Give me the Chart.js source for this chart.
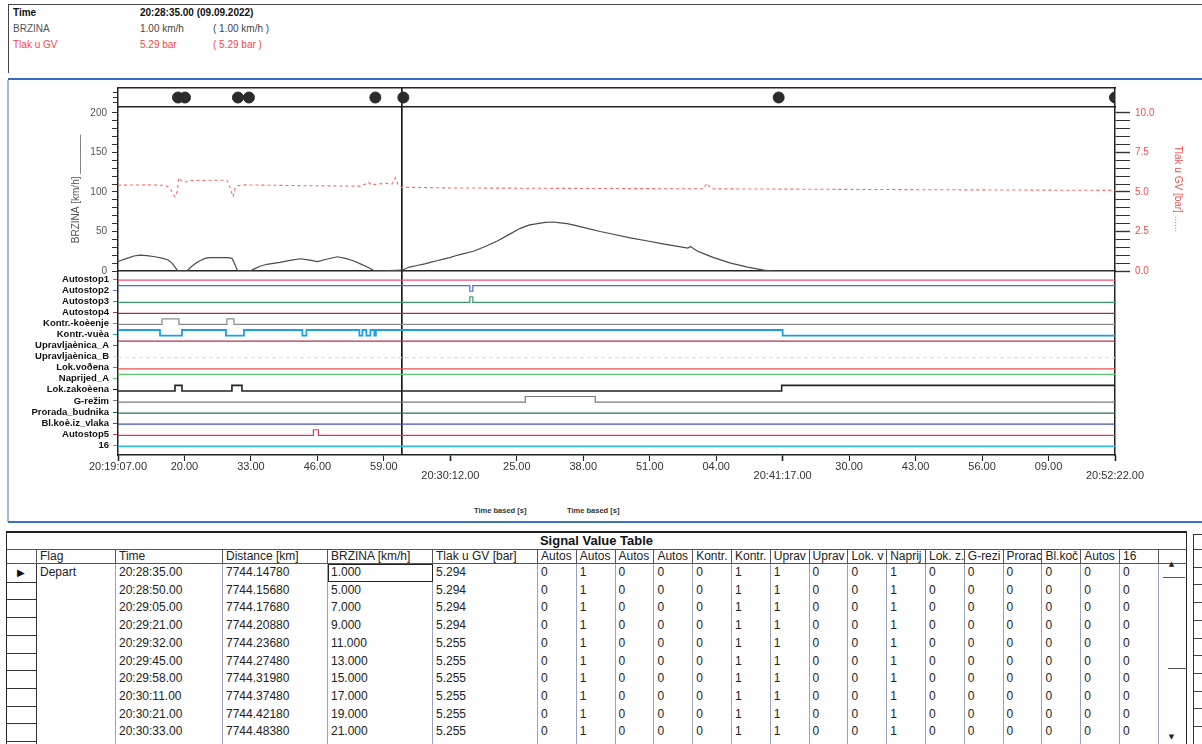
<!DOCTYPE html>
<html><head><meta charset="utf-8">
<script src="https://cdn.jsdelivr.net/npm/chart.js@4.4.0/dist/chart.umd.min.js"></script>
<style>
html,body{margin:0;padding:0}
body{width:1202px;height:744px;overflow:hidden;background:#fff;position:relative;font-family:"Liberation Sans",Arial,sans-serif;color:#222}
.abs{position:absolute;white-space:nowrap}
canvas{position:absolute;left:0}
.it{font-size:10px;line-height:12px}
.cell{position:absolute;box-sizing:border-box;font-size:12px;padding-left:3px;white-space:nowrap;overflow:hidden;color:#222}
</style></head><body>

<!-- info box -->
<div class="abs" style="left:8px;top:4px;width:1194px;height:68px;border-left:1px solid #444;border-top:1px solid #444"></div>
<div class="abs it" style="left:13px;top:7px;font-weight:bold;color:#111">Time</div>
<div class="abs it" style="left:140px;top:7px;color:#111;font-weight:bold" id="infoTime"></div>
<div class="abs it" style="left:13px;top:23px;color:#555">BRZINA</div>
<div class="abs it" style="left:140px;top:23px;color:#444" id="infoSpeed"></div>
<div class="abs it" style="left:213px;top:23px;color:#444" id="infoSpeed2"></div>
<div class="abs it" style="left:13px;top:39px;color:#f04848">Tlak u GV</div>
<div class="abs it" style="left:140px;top:39px;color:#f04848" id="infoPres"></div>
<div class="abs it" style="left:213px;top:39px;color:#f04848" id="infoPres2"></div>

<!-- blue frame -->
<div class="abs" style="left:8px;top:78px;width:1194px;height:2px;background:#2f6cc4"></div>
<div class="abs" style="left:7px;top:80px;width:2px;height:442px;background:#9dbde9"></div>
<div class="abs" style="left:8px;top:521px;width:1194px;height:2px;background:#3a72c6"></div>

<div class="abs" style="left:474px;top:506px;font:bold 7.5px 'Liberation Sans',Arial,sans-serif;color:#333">Time based [s]</div>
<div class="abs" style="left:567px;top:506px;font:bold 7.5px 'Liberation Sans',Arial,sans-serif;color:#333">Time based [s]</div>

<div id="tbl"></div>

<script>
// ---------------- data ----------------
const xMax = 1995;            // seconds from 20:19:07 to 20:52:22
const tickStep = 133;         // seconds between x ticks
const xTickLabels = ['20:19:07.00','20.00','33.00','46.00','59.00','20:30:12.00','25.00','38.00','51.00','04.00','20:41:17.00','30.00','43.00','56.00','09.00','20:52:22.00'];

const speedT = [0,4,18,32,44,58,74,90,100,108,114,120,138,146,156,164,174,184,204,220,228,232,236,240,264,274,284,298,324,344,365,381,399,415,439,455,471,485,499,511,515,568,583,598,614,625,638,651,664,674,686,711,735,759,782,805,822,839,855,871,885,899,919,939,965,991,1025,1060,1093,1126,1140,1146,1152,1160,1172,1192,1226,1260,1292,1312,1995];
const speedV = [12,13,16,19,20,19.5,18,16,14,10,5,0,0,5,10,13,16,17,17,17,16,11,5,0,0,3,6,8.5,11,13.5,15.5,14,12,14.5,18,16,13,9,5,1,0,1,5,7,9,11,13,15,17,19,21,25,31,38,46,54,58,60,61.5,62,61,60,57,54,50,46.5,42,38,34,30.5,29,31,28,25,22,17,10,5,1,0,0];

const presT = [0,60,94,104,110,114,118,122,126,132,144,184,218,222,226,230,234,240,254,365,485,495,501,507,520,535,548,555,560,568,583,664,965,1172,1178,1182,1188,1566,1995];
const presV = [5.43,5.45,5.42,5.25,4.9,4.7,5.0,5.9,5.75,5.6,5.72,5.74,5.74,5.5,5.1,4.7,5.2,5.4,5.45,5.4,5.37,5.5,5.62,5.45,5.5,5.55,5.5,5.9,5.5,5.294,5.294,5.255,5.22,5.2,5.55,5.4,5.2,5.15,5.1];

const stopT = [120,134,240,262,515,571,1322,1995];
const cursorT = 568;

const speedTicks = [0,10,20,30,40,50,60,70,80,90,100,110,120,130,140,150,160,170,180,190,200];
const presTicks = [0,0.5,1,1.5,2,2.5,3,3.5,4,4.5,5,5.5,6,6.5,7,7.5,8,8.5,9,9.5,10];

const signalNames = ['Autostop1','Autostop2','Autostop3','Autostop4','Kontr.-koèenje','Kontr.-vuèa','Upravljaènica_A','Upravljaènica_B','Lok.voðena','Naprijed_A','Lok.zakoèena','G-režim','Prorada_budnika','Bl.koè.iz_vlaka','Autostop5','16'];
const sigT = [
  [0],
  [0,704,710],
  [0,704,710],
  [0],
  [0,88,122,218,232],
  [0,84,128,216,252,369,377,483,489,497,505,513,516,1330],
  [0],
  [0],
  [0],
  [0],
  [0,114,128,228,248,1328],
  [0,815,955],
  [0],
  [0],
  [0,391,401],
  [0]
];
const sigV = [
  [0],
  [1,0,1],
  [0,1,0],
  [0],
  [0,1,0,1,0],
  [1,0,1,0,1,0,1,0,1,0,1,0,1,0],
  [1],
  [0],
  [0],
  [1],
  [0,1,0,1,0,1],
  [0,1,0],
  [0],
  [0],
  [0,1,0],
  [0]
];

// table data
const tblHeaders = ['Flag','Time','Distance [km]','BRZINA [km/h]','Tlak u GV [bar]','Autos','Autos','Autos','Autos','Kontr.','Kontr.','Uprav','Uprav','Lok. v','Naprij','Lok. z.','G-rezi','Prorac','Bl.koč','Autos','16'];
const tblFlag = ['Depart','','','','','','','','',''];
const tblTime = ['20:28:35.00','20:28:50.00','20:29:05.00','20:29:21.00','20:29:32.00','20:29:45.00','20:29:58.00','20:30:11.00','20:30:21.00','20:30:33.00'];
const tblDist = ['7744.14780','7744.15680','7744.17680','7744.20880','7744.23680','7744.27480','7744.31980','7744.37480','7744.42180','7744.48380'];
const tblSpeed = ['1.000','5.000','7.000','9.000','11.000','13.000','15.000','17.000','19.000','21.000'];
const tblPres = ['5.294','5.294','5.294','5.294','5.255','5.255','5.255','5.255','5.255','5.255'];
const tblSig = ['0100011001000000','0100011001000000','0100011001000000','0100011001000000','0100011001000000','0100011001000000','0100011001000000','0100011001000000','0100011001000000','0100011001000000'];

const infoTime = '20:28:35.00 (09.09.2022)';
const infoSpeed = '1.00 km/h';
const infoPres = '5.29 bar';

// ---------------- styles ----------------
const signalColors = ['#f0507c','#4a6ee0','#3a9a6a','#a0305a','#8c8c8c','#1aa0e8','#b8304f','#d8d8d8','#e8504a','#5ccc6c','#222222','#7a7a7a','#2f6a55','#4050b0','#e8306a','#30b8e8'];
const signalWidths = [1.2,1.2,1.2,1.2,1.2,1.8,1.2,1,1.2,1.2,1.6,1.2,1.2,1.2,1.2,1.6];

document.getElementById('infoTime').textContent = infoTime;
document.getElementById('infoSpeed').textContent = infoSpeed;
document.getElementById('infoSpeed2').textContent = '( ' + infoSpeed + ' )';
document.getElementById('infoPres').textContent = infoPres;
document.getElementById('infoPres2').textContent = '( ' + infoPres + ' )';

Chart.defaults.font.family = "'Liberation Sans', Arial, sans-serif";
const BASE = {responsive:false, animation:false, devicePixelRatio:1, events:[],
  plugins:{legend:{display:false}, tooltip:{enabled:false}}};
const LEFTW = 118, RIGHTW = 87;

function mkCanvas(top, h){
  const c = document.createElement('canvas');
  c.width = 1202; c.height = h; c.style.top = top + 'px';
  document.body.appendChild(c); return c;
}
function xScale(extra){
  return Object.assign({type:'linear', min:0, max:xMax,
    ticks:{display:false}, grid:{display:false, drawTicks:false},
    border:{display:true, color:'#222', width:1.5}}, extra || {});
}
function cursorDs(y0, y1, axis){
  return {data:[{x:cursorT,y:y0},{x:cursorT,y:y1}], showLine:true, borderColor:'#111', borderWidth:1.6, pointRadius:0, yAxisID:axis};
}

// ---------------- strip with stop markers (chart area y 88..107) ----------------
new Chart(mkCanvas(80, 30), {
  type:'scatter',
  data:{datasets:[
    {data: stopT.map(t => ({x:t, y:0.5})), pointRadius:5.5, pointBackgroundColor:'#2b2b2b', pointBorderColor:'#2b2b2b', yAxisID:'y'},
    cursorDs(0, 1, 'y')
  ]},
  options:Object.assign({}, BASE, {
    layout:{autoPadding:false, padding:{top:8, bottom:3, left:0, right:0}},
    scales:{
      x: xScale(),
      xt: xScale({position:'top'}),
      y:{min:0, max:1, afterFit:s => { s.width = LEFTW; },
         afterBuildTicks:s => { s.ticks = [{value:0.25},{value:0.5},{value:0.75}]; },
         ticks:{display:false}, grid:{drawOnChartArea:false, tickLength:5, color:'#333'},
         border:{color:'#222', width:1.5}},
      yr:{position:'right', min:0, max:1, afterFit:s => { s.width = RIGHTW; },
         ticks:{display:false}, grid:{display:false, drawTicks:false},
         border:{color:'#222', width:1.5}}
    }
  })
});

// ---------------- speed / pressure (chart area y 107..271) ----------------
new Chart(mkCanvas(96, 186), {
  type:'scatter',
  data:{datasets:[
    {data: presT.map((t,i) => ({x:t, y:presV[i]})), showLine:true, borderColor:'#f86868', borderWidth:1.1, borderDash:[3,3], pointRadius:0, yAxisID:'y2'},
    {data: speedT.map((t,i) => ({x:t, y:speedV[i]})), showLine:true, borderColor:'#4a4a4a', borderWidth:1.2, pointRadius:0, yAxisID:'y'},
    cursorDs(0, 207.5, 'y')
  ]},
  options:Object.assign({}, BASE, {
    layout:{autoPadding:false, padding:{top:11, bottom:11, left:0, right:0}},
    scales:{
      x: xScale(),
      y:{min:0, max:207.5, afterFit:s => { s.width = LEFTW; },
         afterBuildTicks:s => { s.ticks = speedTicks.map(v => ({value:v})); },
         ticks:{autoSkip:false, callback:v => (v % 50 === 0 ? String(v) : ''), color:'#555', font:{size:10}, padding:5},
         grid:{drawOnChartArea:false, tickLength:6, color:'#333'},
         border:{color:'#222', width:1.5},
         title:{display:true, text:'BRZINA [km/h] _______', color:'#555', font:{size:10}, padding:{top:70, bottom:0}}},
      y2:{position:'right', min:0, max:10.377, afterFit:s => { s.width = RIGHTW; },
         afterBuildTicks:s => { s.ticks = presTicks.map(v => ({value:v})); },
         ticks:{autoSkip:false, callback:v => (Math.abs(v/2.5 - Math.round(v/2.5)) < 1e-6 ? v.toFixed(1) : ''), color:'#f05050', font:{size:10}, padding:5},
         grid:{drawOnChartArea:false, tickLength:15, color:'#333', tickWidth:ctx => (ctx.index % 5 === 0 ? 1.4 : 1)},
         border:{color:'#222', width:1.5},
         title:{display:true, text:'Tlak u GV [bar] ......', color:'#f05050', font:{size:10}, padding:{top:18, bottom:0}}}
    }
  })
});

// ---------------- signals + time axis (chart area y 271..455) ----------------
const SMIN = -0.726, SMAX = 15.88;
const rowY = (i, v) => i + 0.1 - v * 0.5;
const sigDatasets = signalNames.map((name, i) => {
  const pts = sigT[i].map((t, k) => ({x:t, y:rowY(i, sigV[i][k])}));
  pts.push({x:xMax, y:rowY(i, sigV[i][sigV[i].length - 1])});
  return {label:name, data:pts, showLine:true, stepped:true, borderColor:signalColors[i],
          borderWidth:signalWidths[i], pointRadius:0, yAxisID:'ys', borderDash: i === 7 ? [4,3] : []};
});
sigDatasets.push(cursorDs(SMIN, SMAX, 'ys'));

new Chart(mkCanvas(261, 239), {
  type:'scatter',
  data:{datasets:sigDatasets},
  options:Object.assign({}, BASE, {
    layout:{autoPadding:false, padding:{top:10, bottom:0, left:0, right:0}},
    scales:{
      x:{type:'linear', min:0, max:xMax, afterFit:s => { s.height = 45; },
         afterBuildTicks:s => { s.ticks = xTickLabels.map((_, k) => ({value:k * tickStep})); },
         ticks:{autoSkip:false, maxRotation:0, minRotation:0, color:'#333', padding:1,
                font:{size:11, lineHeight:0.85},
                callback:(v, i) => (i % 5 === 0 && i > 0 ? ['', xTickLabels[i]] : xTickLabels[i])},
         grid:{drawOnChartArea:false, tickLength:6, color:'#222', tickWidth:ctx => (ctx.index % 5 === 0 ? 1.6 : 1.1)},
         border:{color:'#222', width:1.5}},
      ys:{min:SMIN, max:SMAX, reverse:true, afterFit:s => { s.width = LEFTW; },
         afterBuildTicks:s => { s.ticks = signalNames.map((_, i) => ({value:i})); },
         ticks:{autoSkip:false, callback:v => signalNames[v], color:'#111', font:{size:9.5, weight:'bold'}, padding:4},
         grid:{drawOnChartArea:false, tickLength:5, tickColor:ctx => signalColors[ctx.index] || '#333', color:'#333'},
         border:{color:'#222', width:1.5}},
      yr:{position:'right', min:0, max:1, afterFit:s => { s.width = RIGHTW; },
         ticks:{display:false}, grid:{display:false, drawTicks:false},
         border:{color:'#222', width:1.5}}
    }
  })
});

// ---------------- Signal Value Table ----------------
(function buildTable(){
  const root = document.getElementById('tbl');
  const add = (html, style) => { const d = document.createElement('div'); d.className = 'abs'; d.setAttribute('style', style); d.innerHTML = html; root.appendChild(d); return d; };
  const cell = (txt, style) => { const d = document.createElement('div'); d.className = 'cell'; d.setAttribute('style', style); d.textContent = txt; root.appendChild(d); return d; };
  const colX = [6,37,116,223,328,433,538];
  for (let k = 1; k <= 16; k++) colX.push(538 + 38.8 * k);
  const scrollR = 1187;
  const top = 531, headTop = 549, headH = 15, rowTop = 564, rowH = 17.7;

  add('', `left:6px;top:${top}px;width:${scrollR-6}px;height:230px;box-sizing:border-box;border-left:1.5px solid #222;border-top:2px solid #222;border-right:1.5px solid #222`);
  add('Signal Value Table', `left:6px;top:${top+1}px;width:${scrollR-6}px;text-align:center;font:bold 13px 'Liberation Sans',Arial,sans-serif;line-height:18px;color:#111`);
  add('', `left:6px;top:${headTop}px;width:${scrollR-6}px;height:${headH}px;box-sizing:border-box;border-top:1px solid #555;border-bottom:1px solid #555`);
  for (let c = 0; c < colX.length - 1; c++) {
    const txt = c === 0 ? '' : tblHeaders[c-1];
    cell(txt, `left:${colX[c]}px;top:${headTop}px;width:${colX[c+1]-colX[c]}px;height:${headH}px;line-height:${headH}px;border-right:1px solid #555`);
  }
  for (let c = 1; c < colX.length; c++) {
    add('', `left:${colX[c]-1}px;top:${rowTop}px;width:1px;height:${744-rowTop}px;background:${c === 1 ? '#333' : '#98a2b8'}`);
  }
  for (let r = 1; r <= 10; r++) {
    add('', `left:6px;top:${(rowTop + rowH*r).toFixed(1)}px;width:31px;height:1px;background:#333`);
  }
  add('&#9654;', `left:17px;top:${rowTop+2}px;font:10px 'DejaVu Sans',sans-serif;line-height:14px;color:#111`);
  for (let r = 0; r < tblTime.length; r++) {
    const y = (rowTop + rowH * r).toFixed(1);
    const vals = [tblFlag[r], tblTime[r], tblDist[r], tblSpeed[r], tblPres[r]].concat(tblSig[r].split(''));
    for (let c = 1; c < colX.length - 1; c++) {
      cell(vals[c-1], `left:${colX[c]}px;top:${y}px;width:${colX[c+1]-colX[c]}px;height:${rowH}px;line-height:${rowH}px`);
    }
  }
  add('', `left:328px;top:${rowTop}px;width:105px;height:18px;box-sizing:border-box;border:1px solid #222`);
  const sx = colX[colX.length-1];
  add('&#9650;', `left:${sx+10}px;top:${rowTop-4}px;font:7px 'DejaVu Sans',sans-serif;color:#222`);
  add('', `left:${sx+4}px;top:577px;width:22px;height:1px;background:#555`);
  add('', `left:${sx+9}px;top:668px;width:${scrollR-sx-9}px;height:1px;background:#555`);
  add('&#9660;', `left:${sx+10}px;top:733px;font:7px 'DejaVu Sans',sans-serif;color:#222`);
  add('', `left:1193px;top:534px;width:9px;height:210px;box-sizing:border-box;border-left:1.5px solid #333;border-top:1.5px solid #333`);
  for (let r = 0; r <= 10; r++) {
    add('', `left:1194px;top:${(headTop + rowH*r).toFixed(1)}px;width:8px;height:1px;background:#444`);
  }
})();
</script>
</body></html>
